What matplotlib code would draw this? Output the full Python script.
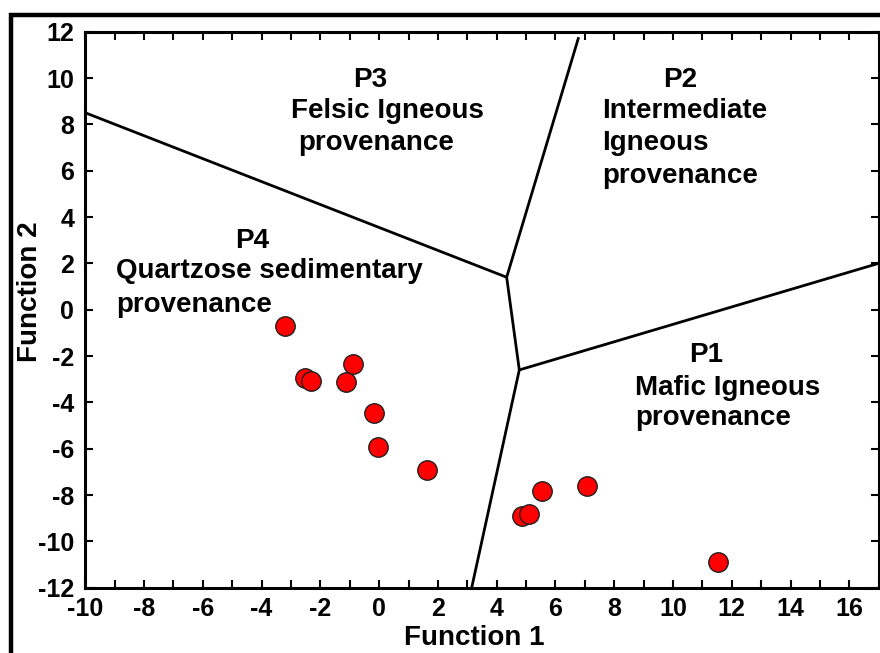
import matplotlib
matplotlib.use("Agg")
import matplotlib.pyplot as plt
from matplotlib.patches import Rectangle
from matplotlib.ticker import MultipleLocator

plt.rcParams['font.family'] = ['Liberation Sans', 'DejaVu Sans']
plt.rcParams['font.weight'] = 'bold'
plt.rcParams['axes.unicode_minus'] = False

# discriminant function scores of the samples
f1 = [-3.2, -0.9, -2.52, -2.32, -1.13, -0.17, -0.05, 1.64, 5.53, 7.09, 4.85, 5.11, 11.52]
f2 = [-0.70, -2.34, -2.96, -3.06, -3.12, -4.47, -5.91, -6.92, -7.82, -7.61, -8.90, -8.82, -10.87]

# field boundaries (each one a polyline)
bnd_p3_p4 = ([-10, 4.34], [8.50, 1.40])
bnd_p2_p3 = ([4.34, 6.79], [1.40, 11.76])
bnd_mid = ([4.34, 4.77], [1.40, -2.60])
bnd_p1_p2 = ([4.77, 17], [-2.60, 2.00])
bnd_p1_p4 = ([4.77, 3.15], [-2.60, -12])

# field labels: (x, y, text)
field_labels = [
    (-0.89, 10.06, "P3"), (-3.01, 8.71, "Felsic Igneous"), (-2.76, 7.33, "provenance"),
    (9.67, 10.03, "P2"), (7.58, 8.69, "Intermediate"), (7.58, 7.33, "Igneous"),
    (7.58, 5.89, "provenance"),
    (-4.90, 3.08, "P4"), (-8.96, 1.79, "Quartzose sedimentary"), (-8.96, 0.35, "provenance"),
    (10.56, -1.81, "P1"), (8.71, -3.25, "Mafic Igneous"), (8.71, -4.54, "provenance"),
]

fig = plt.figure(figsize=(8.8, 6.53), dpi=100)
ax = fig.add_axes([0.0969, 0.100, 0.9016, 0.8515])

for xs, ys in [bnd_p3_p4, bnd_p2_p3, bnd_mid, bnd_p1_p2, bnd_p1_p4]:
    ax.plot(xs, ys, color='black', lw=2.0, solid_capstyle='butt', zorder=2)

ax.plot(f1, f2, 'o', ms=14, mfc='#ff0000', mec='#222222', mew=1.0, zorder=3)

for x, y, s in field_labels:
    ax.text(x, y, s, fontsize=20, fontweight='bold', ha='left', va='center_baseline')

ax.set_xlim(-10, 17)
ax.set_ylim(-12, 12)
ax.xaxis.set_major_locator(MultipleLocator(2))
ax.xaxis.set_minor_locator(MultipleLocator(1))
ax.yaxis.set_major_locator(MultipleLocator(2))
ax.tick_params(which='both', direction='in', top=True, right=True, width=1.5,
               length=6, labelsize=18)
ax.tick_params(axis='x', pad=7)
ax.tick_params(axis='y', pad=8)
for lab in ax.get_xticklabels() + ax.get_yticklabels():
    lab.set_fontweight('bold')
for sp in ax.spines.values():
    sp.set_linewidth(2.2)

fig.text(474 / 880, 1 - 638 / 653, "Function 1", fontsize=20, fontweight='bold',
         ha='center', va='center')
fig.text(30 / 880, 1 - 292 / 653, "Function 2", fontsize=20, fontweight='bold',
         ha='center', va='center', rotation=90)

# outer frame, running off the right and bottom edges
fig.add_artist(Rectangle((11 / 880, -0.5), 2.0, 1.5 - 15 / 653, transform=fig.transFigure,
                         fill=False, lw=3.2, edgecolor='black'))

fig.savefig("out.png", dpi=100)
